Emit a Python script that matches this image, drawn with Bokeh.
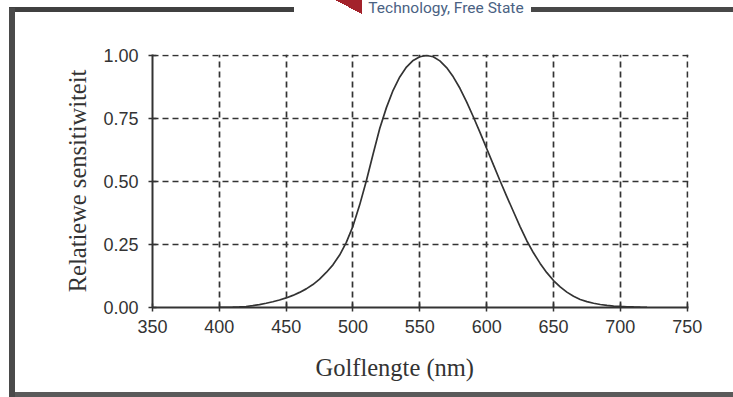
from bokeh.plotting import figure
from bokeh.models import (FixedTicker, NumeralTickFormatter, Label, Range1d, Title)
from bokeh.embed import file_html
from bokeh.resources import INLINE

# Data (relative sensitivity of the eye vs wavelength)
wavelength = [400, 405, 410, 415, 420, 425, 430, 435, 440, 445, 450, 455, 460, 465,
              470, 475, 480, 485, 490, 495, 500, 505, 510, 515, 520, 525, 530, 535,
              540, 545, 550, 555, 560, 565, 570, 575, 580, 585, 590, 595, 600, 605,
              610, 615, 620, 625, 630, 635, 640, 645, 650, 655, 660, 665, 670, 675,
              680, 685, 690, 695, 700, 705, 710, 715, 720]
sensitivity = [0.0004, 0.0006, 0.0012, 0.0022, 0.004, 0.0073, 0.0116, 0.0168, 0.023,
               0.0298, 0.038, 0.048, 0.060, 0.0739, 0.091, 0.1126, 0.139, 0.1693,
               0.208, 0.2586, 0.323, 0.4073, 0.503, 0.6082, 0.710, 0.7932, 0.862,
               0.9149, 0.954, 0.9803, 0.995, 1.000, 0.995, 0.9786, 0.952, 0.9154,
               0.870, 0.8163, 0.757, 0.6949, 0.631, 0.5668, 0.503, 0.4412, 0.381,
               0.321, 0.265, 0.217, 0.175, 0.1382, 0.107, 0.0816, 0.061, 0.0446,
               0.032, 0.0235, 0.017, 0.0119, 0.0082, 0.0058, 0.0041, 0.0029, 0.0021,
               0.0015, 0.00105]
x_ticks = [350, 400, 450, 500, 550, 600, 650, 700, 750]
y_ticks = [0.0, 0.25, 0.50, 0.75, 1.00]
x_title = "Golflengte (nm)"
y_title = "Relatiewe sensitiwiteit"
logo_text = "Technology, Free State"

INK = "#333333"

# the scanned page frame (thick grey borders) and the red corner of the logo,
# drawn behind the transparent plot border area
frame_css = ", ".join([
    "linear-gradient(#4a4a4a,#4a4a4a) 9px 8px / 6px 389px no-repeat",
    "linear-gradient(#404040,#404040) 9px 7px / 285px 5px no-repeat",
    "linear-gradient(#484848,#484848) 531px 7px / 202px 5px no-repeat",
    "linear-gradient(#5a5a5a,#5a5a5a) 9px 392px / 724px 5px no-repeat",
    "linear-gradient(to bottom left, #a3222b 50%, transparent 50%) 335px 0px / 27px 14px no-repeat",
])

p = figure(width=733, height=397, output_backend="svg", toolbar_location=None,
           x_range=Range1d(350, 751), y_range=Range1d(0, 1.004),
           min_border_left=152, min_border_right=45, min_border_top=54,
           min_border_bottom=90, styles={"background": frame_css})
p.outline_line_color = None
p.background_fill_color = "white"
p.border_fill_alpha = 0

p.line(wavelength, sensitivity, line_color=INK, line_width=1.7)

for ax in (p.xaxis[0], p.yaxis[0]):
    ax.axis_line_color = INK
    ax.axis_line_width = 2
    ax.major_tick_line_color = INK
    ax.major_tick_line_width = 1.5
    ax.major_tick_in = 4
    ax.major_tick_out = 4
    ax.minor_tick_line_color = None
    ax.major_label_text_font = "Liberation Sans"
    ax.major_label_text_font_size = "18px"
    ax.major_label_text_color = INK

p.xaxis.ticker = FixedTicker(ticks=x_ticks)
p.yaxis.ticker = FixedTicker(ticks=y_ticks)
p.yaxis.formatter = NumeralTickFormatter(format="0.00")
p.xaxis.major_label_standoff = 8
p.yaxis.major_label_standoff = 10

p.yaxis.axis_label = y_title
p.yaxis.axis_label_text_font = "Liberation Serif"
p.yaxis.axis_label_text_font_style = "normal"
p.yaxis.axis_label_text_font_size = "24.5px"
p.yaxis.axis_label_text_color = INK
p.yaxis.axis_label_standoff = 9

for g in (p.xgrid[0], p.ygrid[0]):
    g.grid_line_color = INK
    g.grid_line_width = 1.7
    g.grid_line_dash = "6 4"
p.xgrid.ticker = FixedTicker(ticks=x_ticks)
p.ygrid.ticker = FixedTicker(ticks=y_ticks)

# x axis title (offset to the left of centre, as in the original)
p.add_layout(Title(text=x_title, align="left", offset=163, standoff=32,
                   text_font="Liberation Serif", text_font_style="normal",
                   text_font_size="24.5px", text_color=INK), "below")

# logo text at the top of the scan
p.add_layout(Label(x=511.5, y=1.188, text=logo_text,
                   text_font="Roboto", text_font_size="15.5px", text_color="#4a6283",
                   text_baseline="alphabetic", text_align="left"), "above")

open("out.html", "w").write(file_html(p, INLINE))
